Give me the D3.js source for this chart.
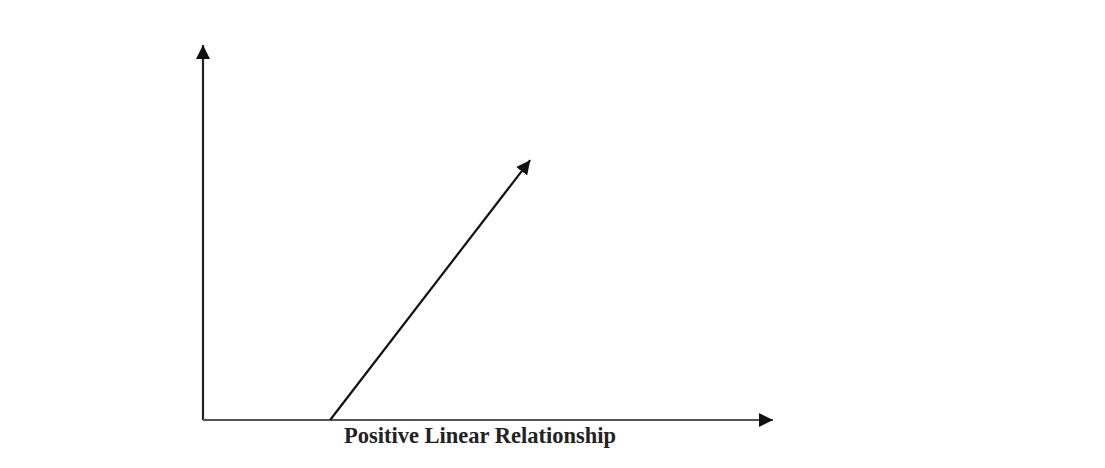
<!DOCTYPE html>
<html><head><meta charset="utf-8">
<script src="https://cdn.jsdelivr.net/npm/d3@7"></script>
<style>html,body{margin:0;padding:0;background:#fff;}svg{display:block;}</style>
</head><body>
<svg id="chart" width="1105" height="468"></svg>
<script>
const xDomain = [0, 10];
const yDomain = [0, 10];
const linePoints = [{x: 2.23, y: 0}, {x: 5.74, y: 6.93}];
const axisLabel = "Positive Linear Relationship";

const svg = d3.select("#chart");
const x = d3.scaleLinear().domain(xDomain).range([203, 773]);
const y = d3.scaleLinear().domain(yDomain).range([420, 45]);

const defs = svg.append("defs");
defs.append("marker").attr("id","arr").attr("viewBox","0 0 12 12")
  .attr("refX",12).attr("refY",6).attr("markerWidth",14).attr("markerHeight",14)
  .attr("markerUnits","userSpaceOnUse").attr("orient","auto")
  .append("path").attr("d","M0,0 L12,6 L0,12 Z").attr("fill","#111");

// axes
svg.append("line").attr("x1",x(xDomain[0])).attr("y1",y(yDomain[0]))
  .attr("x2",x(xDomain[0])).attr("y2",y(yDomain[1]))
  .attr("stroke","#222").attr("stroke-width",2.2).attr("marker-end","url(#arr)");
svg.append("line").attr("x1",x(xDomain[0])).attr("y1",y(yDomain[0]))
  .attr("x2",x(xDomain[1])).attr("y2",y(yDomain[0]))
  .attr("stroke","#555").attr("stroke-width",2.2).attr("marker-end","url(#arr)");

// relationship line
svg.append("path").datum(linePoints)
  .attr("d", d3.line().x(d=>x(d.x)).y(d=>y(d.y)))
  .attr("fill","none").attr("stroke","#111").attr("stroke-width",2.2)
  .attr("marker-end","url(#arr)");

// label
const t = svg.append("text").attr("x",480).attr("y",443).attr("text-anchor","middle")
  .attr("font-family","'Liberation Serif', 'Times New Roman', serif")
  .attr("font-weight","bold").attr("font-size",22.5).attr("fill","#222")
  .text(axisLabel);
</script>
</body></html>
